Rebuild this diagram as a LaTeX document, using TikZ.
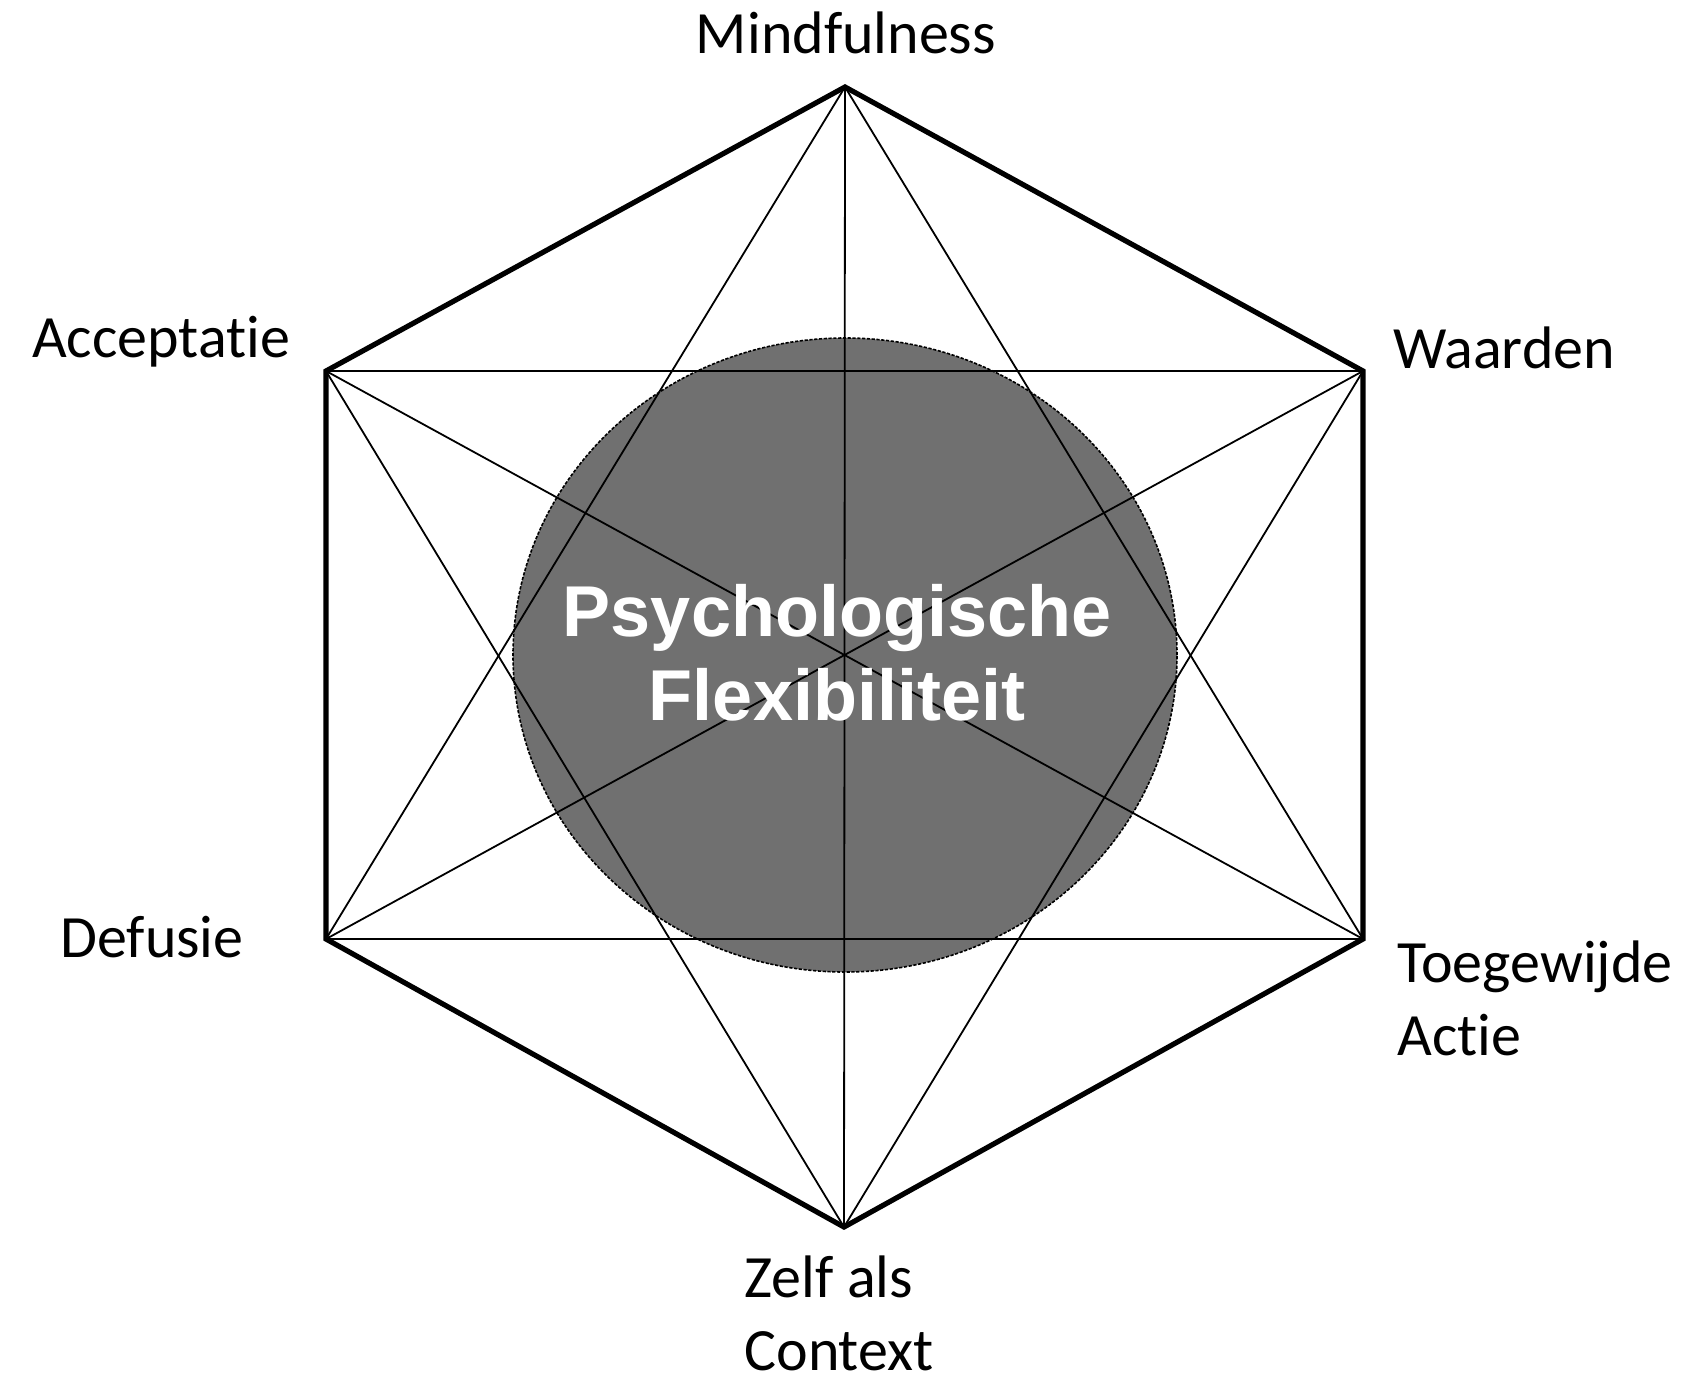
\documentclass[tikz,border=0pt]{standalone}
\usepackage{fontspec}
\setmainfont[Ligatures=NoCommon]{Carlito}
\newfontfamily\kernfont{Liberation Sans}
\usepackage{tikz}
\usetikzlibrary{positioning,shapes.geometric}
\definecolor{kerngrijs}{RGB}{112,112,112}
\tikzset{
  rand/.style={line width=2.6pt,line join=miter,line cap=round},
  diag/.style={line width=0.9pt},
  lbl/.style={font=\fontsize{30}{36.5}\selectfont,inner sep=0pt},
  kern/.style={draw,ellipse,fill=kerngrijs,line width=0.8pt,dash pattern=on 1.6pt off 0.8pt,minimum width=332pt,minimum height=317pt,inner sep=0pt},
  kerntxt/.style={font=\kernfont\bfseries\fontsize{36}{42}\selectfont,text=white,align=center,inner sep=0pt},
}

\begin{document}
\begin{tikzpicture}[x=0.5pt,y=-0.5pt]
 \useasboundingbox (0,0) rectangle (1690,1387);
 % hoekpunten
 \coordinate (mind) at (845,87);
 \coordinate (waard) at (1363,371);
 \coordinate (toeg) at (1363,939);
 \coordinate (zelf) at (844,1227);
 \coordinate (def) at (326,939);
 \coordinate (acc) at (326,371);
 % kern
 \node[kern] (kern) at (845,655) {};
 % diagonalen
 \foreach \a/\b in {mind/toeg,mind/zelf,mind/def,waard/zelf,waard/def,waard/acc,toeg/def,toeg/acc,zelf/acc}{
  \draw[diag] (\a) -- (\b);
 }
 \draw[rand] (mind) -- (waard) -- (toeg) -- (zelf) -- (def) -- (acc) -- cycle;
 \node[kerntxt] (kernlbl) at ([xshift=-4pt,yshift=1pt]kern.center) {Psychologische\\Flexibiliteit};
 % labels
 \node[lbl,anchor=base] (lmind) at (846,53) {Mindfulness};
 \node[lbl,anchor=base] (lwaard) at (1504,368) {Waarden};
 \node[lbl,anchor=base west,align=left] (ltoeg) at (1397,1055) {Toegewijde\\Actie};
 \node[lbl,anchor=base west,align=left] (lzelf) at (744,1370) {Zelf als\\Context};
 \node[lbl,anchor=base] (ldef) at (152,957) {Defusie};
 \node[lbl,anchor=base] (lacc) at (161,357) {Acceptatie};
\end{tikzpicture}
\end{document}
